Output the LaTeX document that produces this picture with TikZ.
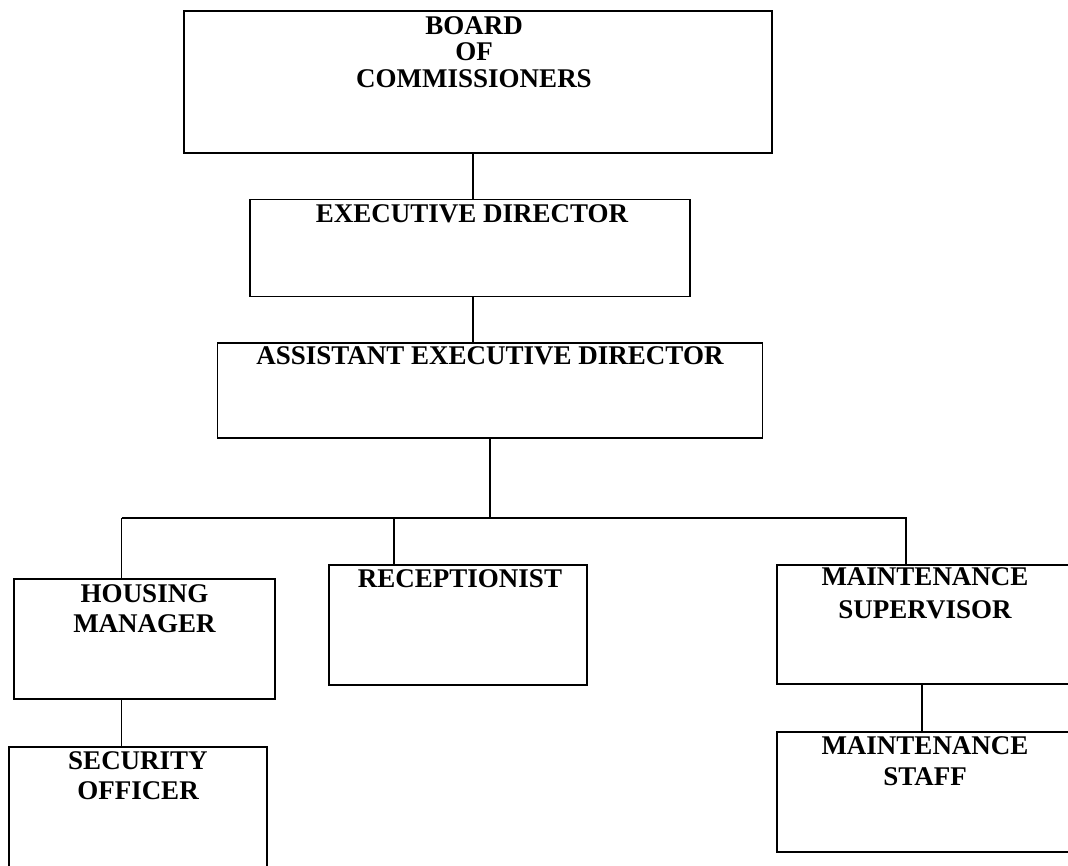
\documentclass[tikz,border=0pt]{standalone}
\usepackage{fontspec}
\setmainfont{Liberation Serif}
\begin{document}
\begin{tikzpicture}[x=1pt,y=-1pt,
  box/.style={draw,line width=1.7pt,inner sep=0pt},
  lbl/.style={anchor=north,inner sep=0pt,align=center,
    font=\bfseries\fontsize{27}{30}\selectfont},
  conn/.style={line width=1.5pt}]
\useasboundingbox (0,0) rectangle (1068,865);
% boxes
\node[box,minimum width=588pt,minimum height=142pt,
  label={[lbl,font=\bfseries\fontsize{27}{26.5}\selectfont,xshift=-4pt,yshift=-6pt]north:BOARD\\OF\\COMMISSIONERS}] (board) at (478,82) {};
\node[box,minimum width=440pt,minimum height=97pt,
  label={[lbl,xshift=2pt,yshift=-6pt]north:EXECUTIVE DIRECTOR}] (exec) at (470,248) {};
\node[box,minimum width=545pt,minimum height=95pt,
  label={[lbl,yshift=-4.5pt]north:ASSISTANT EXECUTIVE DIRECTOR}] (assist) at (490,390.5) {};
\node[box,minimum width=261pt,minimum height=120pt,
  label={[lbl,yshift=-6pt]north:HOUSING\\MANAGER}] (housing) at (144.5,639) {};
\node[box,minimum width=258pt,minimum height=120pt,
  label={[lbl,xshift=2pt,yshift=-5pt]north:RECEPTIONIST}] (recep) at (458,625) {};
\node[box,minimum width=328pt,minimum height=119pt,
  label={[lbl,font=\bfseries\fontsize{27}{33}\selectfont,xshift=-16pt,yshift=-3.5pt]north:MAINTENANCE\\SUPERVISOR}] (msup) at (941,624.5) {};
\node[box,minimum width=328pt,minimum height=120pt,
  label={[lbl,font=\bfseries\fontsize{27}{31}\selectfont,xshift=-16pt,yshift=-5pt]north:MAINTENANCE\\STAFF}] (mstaff) at (941,792) {};
\node[box,minimum width=258pt,minimum height=143pt,
  label={[lbl,yshift=-5pt]north:SECURITY\\OFFICER}] (security) at (138,818.5) {};
% helper coordinates
\coordinate (xa) at (473,0);
\coordinate (xb) at (490,0);
\coordinate (xh) at (121.5,0);
\coordinate (xr) at (394,0);
\coordinate (xm) at (906,0);
\coordinate (xs) at (922,0);
\coordinate (busL) at (121.5,518);
\coordinate (busR) at (907,518);
\coordinate (busM) at (490,518);
% connectors
\draw[conn] (board.south -| xa) -- (exec.north -| xa);
\draw[conn] (exec.south -| xa) -- (assist.north -| xa);
\draw[conn] (assist.south -| xb) -- (busM);
\draw[conn] (busL) -- (busR);
\draw[conn] (busL) -- (housing.north -| xh);
\draw[conn] (busL -| xr) -- (recep.north -| xr);
\draw[conn] (busL -| xm) -- (msup.north -| xm);
\draw[conn] (housing.south -| xh) -- (security.north -| xh);
\draw[conn] (msup.south -| xs) -- (mstaff.north -| xs);
\end{tikzpicture}
\end{document}
